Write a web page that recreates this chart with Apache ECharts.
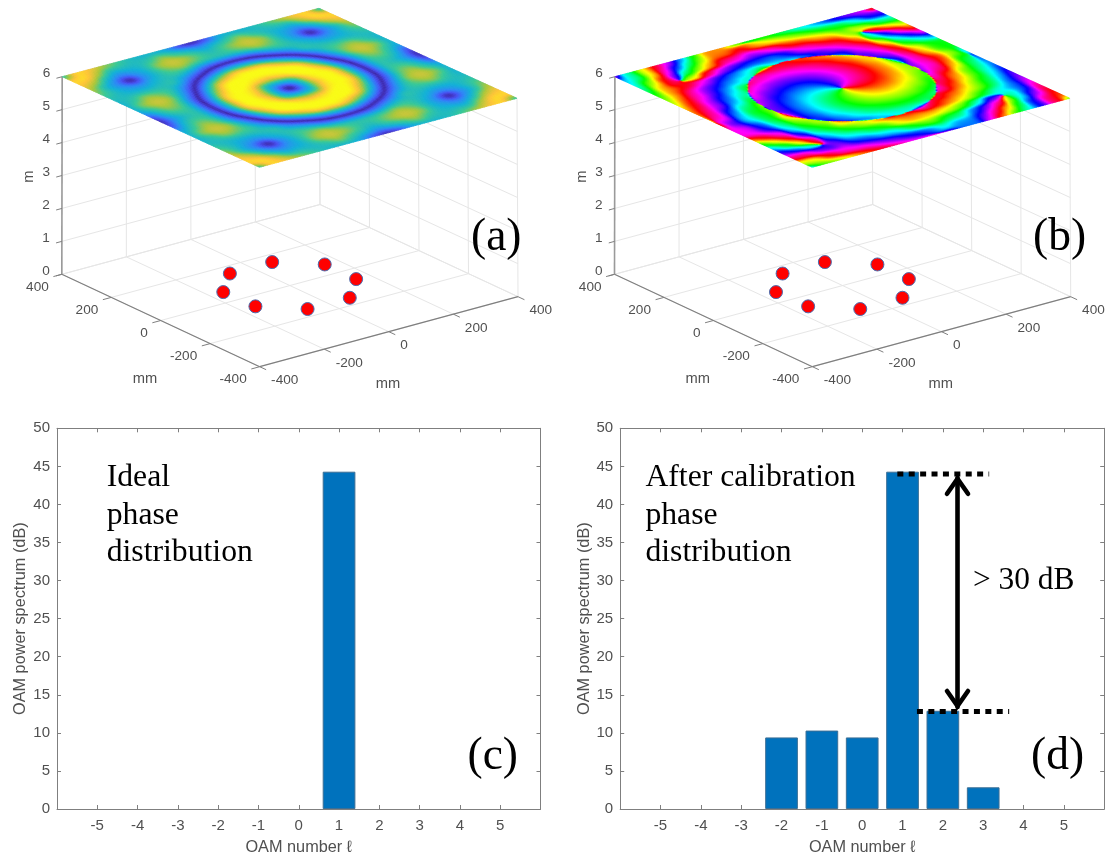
<!DOCTYPE html>
<html><head><meta charset="utf-8">
<style>html,body{margin:0;padding:0;background:#fff}#c{width:1109px;height:859px;filter:blur(0.4px)}</style>
<script src="https://cdn.jsdelivr.net/npm/echarts@6/dist/echarts.min.js"></script>
</head><body><div id="c"></div>
<script>
// ---- data ----
const oamNumbers = [-2, -1, 0, 1, 2, 3];
const idealPower = [0, 0, 0, 44.3, 0, 0];
const calibratedPower = [9.4, 10.3, 9.4, 44.3, 12.9, 2.85];
const xyTicks = [-400, -200, 0, 200, 400];
const zTicks = [0, 1, 2, 3, 4, 5, 6];
const elementX = [155, 155, 64, -63, -156, -155, -63, 63];
const elementY = [-67, 64, 157, 157, 66, -64, -155, -158];
// Signed level of the field magnitude, one quadrant, 0.1 steps of 400 mm (row = |y|, col = |x|)
const levelQuadrant = [
 [0,.38,.80,1,.92,.45,-.07,-.48,-.50,-.34,-.03],
 [.38,.50,.88,1,.90,.40,-.10,-.50,-.58,-.44,-.14],
 [.80,.88,1,1,.72,.23,-.20,-.58,-.70,-.55,-.38],
 [1,1,.99,.85,.45,0,-.38,-.68,-.76,-.66,-.45],
 [.92,.90,.72,.45,.10,-.24,-.50,-.62,-.68,-.55,-.45],
 [.45,.40,.23,0,-.24,-.48,-.50,-.48,-.48,-.48,-.50],
 [-.07,-.10,-.20,-.38,-.50,-.50,-.42,-.30,-.36,-.48,-.60],
 [-.48,-.50,-.58,-.68,-.62,-.48,-.30,-.03,-.28,-.50,-.72],
 [-.50,-.58,-.70,-.76,-.68,-.48,-.36,-.28,-.46,-.72,-.85],
 [-.34,-.44,-.55,-.66,-.55,-.48,-.48,-.50,-.72,-.90,-.88],
 [-.03,-.14,-.38,-.45,-.45,-.50,-.60,-.72,-.85,-.88,-.55]
];
// Phase colour (hue, degrees), x = 0.1..1, y = 0..1; the other quadrants repeat it turned by 90 degrees
const hueQuadrant = [
 [249,261,280,307,342,190,225,290,20,140],
 [298,291,302,325,357,205,250,320,43,125],
 [328,321,330,350,20,240,295,1,59,119],
 [356,352,0,20,49,270,320,15,80,140],
 [27,26,36,55,250,300,350,40,100,165],
 [65,66,77,270,300,335,10,60,125,185],
 [270,250,280,310,340,20,65,95,135,210],
 [318,325,345,15,70,150,200,85,150,240],
 [10,40,60,120,175,240,0,105,190,265],
 [80,105,115,170,240,320,50,150,240,285],
 [170,125,130,212,300,20,85,160,250,0]
];
const upperDotted = {y: 44.0, from: 0.871, to: 3.148};
const lowerDotted = {y: 12.8, from: 1.357, to: 3.644};
const arrowSpan = {x: 2.363, top: 43.9, bottom: 13.0};
const captions = [
 {t:'(a)', x:471, y:238, s:45.5}, {t:'(b)', x:1033, y:238, s:45.5},
 {t:'(c)', x:467.5, y:757, s:45.5}, {t:'(d)', x:1031, y:757, s:45.5},
 {t:'Ideal', x:106.7, y:478, s:31.7}, {t:'phase', x:106.7, y:515.5, s:31.7}, {t:'distribution', x:106.7, y:553, s:31.7},
 {t:'After calibration', x:645.4, y:478, s:31.7}, {t:'phase', x:645.4, y:515.5, s:31.7}, {t:'distribution', x:645.4, y:553, s:31.7},
 {t:'> 30 dB', x:973, y:581, s:31.4}
];
// ---- view of the 3-D boxes ----
const floorBox = {F:[259.7,366.7], L:[61.8,274.3], R:[518,296.7], K:[320,204.5]};
const roofBox = {F:[259.4,167.3], L:[62.2,76.7], R:[517,98.3], K:[319,8.3]};
const panelShift = [0, 552.7];
function project(a, b, z, panel) {
  const s=(a+400)/800, t=(b+400)/800, w=z/6;
  const pick = (box,i)=> box.F[i]*(1-s)*(1-t)+box.L[i]*s*(1-t)+box.R[i]*(1-s)*t+box.K[i]*s*t;
  return [pick(floorBox,0)*(1-w)+pick(roofBox,0)*w+panelShift[panel], pick(floorBox,1)*(1-w)+pick(roofBox,1)*w];
}
const parula=[[.2422,.1504,.6603],[.281,.3228,.9579],[.1786,.5289,.9682],[.0689,.6948,.8394],[.2161,.7843,.5923],[.672,.7793,.2227],[.997,.7659,.2199],[.9769,.9839,.0805]];
function parulaColor(v){ v=Math.min(1,Math.max(0,v))*7; const i=Math.min(6,Math.floor(v)),f=v-i,c=[0,1,2].map(k=>Math.round(255*(parula[i][k]*(1-f)+parula[i+1][k]*f))); return `rgb(${c})`; }
function hueColor(h){ h=((h%360)+360)%360; const x=h/60,i=Math.floor(x),f=x-i; const m=[[1,f,0],[1-f,1,0],[0,1,f],[0,1-f,1],[f,0,1],[1,0,1-f]][i%6]; return `rgb(${m.map(k=>Math.round(255*k))})`; }
const N=10;
const levelAt=(i,j)=>levelQuadrant[Math.abs(j)][Math.abs(i)];
function hueAt(i,j){ let add=0; if(i===0&&j===0) return 0; while(!(i>0&&j>=0)){ const ni=j,nj=-i; i=ni;j=nj; add+=90; } return hueQuadrant[j][i-1]+add; }
const nodeL=[],nodeC=[],nodeS=[];
for(let j=-N;j<=N;j++){ const a=[],c=[],s=[]; for(let i=-N;i<=N;i++){ const l=levelAt(i,j),h=hueAt(i,j)*Math.PI/180; a.push(l); c.push(Math.abs(l)*Math.cos(h)); s.push(Math.abs(l)*Math.sin(h)); } nodeL.push(a);nodeC.push(c);nodeS.push(s); }
function cr(t){ const t2=t*t,t3=t2*t; return [-.5*t3+t2-.5*t,1.5*t3-2.5*t2+1,-1.5*t3+2*t2+.5*t,.5*t3-.5*t2]; }
function shade(tab,ci,cj,wu,wv){ let r=0; for(let q=0;q<4;q++){ const jj=Math.min(2*N,Math.max(0,cj+q-1)); for(let p=0;p<4;p++){ const ii=Math.min(2*N,Math.max(0,ci+p-1)); r+=wu[p]*wv[q]*tab[jj][ii]; } } return r; }
const cellList=[]; for(let j=0;j<2*N;j++) for(let i=0;i<2*N;i++) cellList.push([i,j,0,0]);
function surfaceSeries(panel){
  const SUB=panel===0?6:9;
  return {type:'custom',xAxisIndex:4,yAxisIndex:4,coordinateSystem:'cartesian2d',clip:false,silent:true,z:5,progressive:0,
   data:cellList,encode:{x:2,y:3},
   renderItem(params,api){
    const ci=api.value(0),cj=api.value(1),kids=[];
    for(let q=0;q<SUB;q++)for(let p=0;p<SUB;p++){
      const u=(p+.5)/SUB,v=(q+.5)/SUB,wu=cr(u),wv=cr(v); let fill;
      if(panel===0) fill=parulaColor(Math.abs(shade(nodeL,ci,cj,wu,wv)));
      else fill=hueColor(Math.atan2(shade(nodeS,ci,cj,wu,wv),shade(nodeC,ci,cj,wu,wv))*180/Math.PI);
      const mm=(g,k)=>(g+k/SUB-N)*40;
      const pts=[[p,q],[p+1,q],[p+1,q+1],[p,q+1]].map(e=>api.coord(project(mm(ci,e[0]),mm(cj,e[1]),6,panel)));
      kids.push({type:'polygon',shape:{points:pts},style:{fill:fill,stroke:fill,lineWidth:.7}});
    }
    return {type:'group',children:kids};
   }};
}
const frameColor='#e6e6e6', axisColor='#7f7f7f', textColor='#505050';
function frameSeries(panel){
  return {type:'custom',xAxisIndex:4,yAxisIndex:4,clip:false,silent:true,z:2,data:[[0,0]],encode:{x:0,y:1},
   renderItem(params,api){
    const P=(a,b,z)=>api.coord(project(a,b,z,panel)), kids=[];
    const seg=(p,q,c,w)=>kids.push({type:'line',shape:{x1:p[0],y1:p[1],x2:q[0],y2:q[1]},style:{stroke:c,lineWidth:w||1}});
    const txt=(t,x,y,al,size,rot)=>kids.push({type:'text',x:x,y:y,rotation:rot||0,style:{text:t,fill:textColor,font:size+'px "Liberation Sans"',textAlign:al,textVerticalAlign:'middle'}});
    xyTicks.forEach(v=>{
      seg(P(v,-400,0),P(v,400,0),frameColor); seg(P(-400,v,0),P(400,v,0),frameColor);
      seg(P(400,v,0),P(400,v,6),frameColor); seg(P(v,400,0),P(v,400,6),frameColor);
    });
    zTicks.forEach(z=>{ seg(P(400,-400,z),P(400,400,z),frameColor); seg(P(400,400,z),P(-400,400,z),frameColor); });
    seg(P(400,-400,0),P(-400,-400,0),axisColor,1.2); seg(P(-400,-400,0),P(-400,400,0),axisColor,1.2);
    seg(P(400,-400,0),P(400,-400,6),'#9a9a9a',1.6);
    xyTicks.forEach(v=>{
      const a=P(v,-400,0),b=P(v,-426,0); seg(a,b,axisColor);
      txt(String(v),a[0]-13,a[1]+12.5,'right',13.6);
      const c=P(-400,v,0),d=P(-426,v,0); seg(c,d,axisColor);
      txt(String(v),c[0]+11.4,c[1]+14,'left',13.6);
    });
    zTicks.forEach(z=>{ const a=P(400,-400,z),b=P(400,-418,z); seg(a,b,axisColor); txt(String(z),a[0]-12,a[1]-3,'right',13.6); });
    const dx=panelShift[panel], at=q=>api.coord([q[0]+dx,q[1]]);
    let q=at([145,379]); txt('mm',q[0],q[1],'center',14.7);
    q=at([388,384]); txt('mm',q[0],q[1],'center',14.7);
    q=at([29,176.7]); txt('m',q[0],q[1],'center',14.7,Math.PI/2);
    return {type:'group',children:kids};
   }};
}
function elementSeries(panel){
  return {type:'scatter',xAxisIndex:4,yAxisIndex:4,silent:true,z:3,symbolSize:13,clip:false,
    data:elementX.map((a,i)=>project(a,elementY[i],0,panel)),
    itemStyle:{color:'#ff0000',borderColor:'#4a6db0',borderWidth:1,opacity:1}};
}
const axisCommon={axisLine:{show:true,onZero:false,lineStyle:{color:axisColor,width:1}},axisTick:{show:true,inside:true,length:4,lineStyle:{color:axisColor}},splitLine:{show:false}};
const labelFont={color:textColor,fontFamily:'Liberation Sans',fontSize:15};
const xPair=g=>[
 Object.assign({},axisCommon,{gridIndex:g,type:'value',min:-6,max:6,interval:1,position:'bottom',axisLabel:Object.assign({margin:9,showMinLabel:false,showMaxLabel:false},labelFont),
   name:'OAM number \u2113',nameLocation:'middle',nameGap:31,nameTextStyle:{color:textColor,fontFamily:'Liberation Sans',fontSize:16.3}}),
 Object.assign({},axisCommon,{gridIndex:g,type:'value',min:-6,max:6,interval:1,position:'top',axisLabel:{show:false}})];
const yPair=g=>[
 Object.assign({},axisCommon,{gridIndex:g,type:'value',min:0,max:50,interval:5,position:'left',axisLabel:Object.assign({margin:7},labelFont),
   name:'OAM power spectrum (dB)',nameLocation:'middle',nameGap:28,nameTextStyle:{color:textColor,fontFamily:'Liberation Sans',fontSize:16.3}}),
 Object.assign({},axisCommon,{gridIndex:g,type:'value',min:0,max:50,interval:5,position:'right',axisLabel:{show:false}})];
const barStyle={color:'#0072BD',borderColor:'#3c6f95',borderWidth:1};
const barSeries=(g,vals)=>({type:'bar',xAxisIndex:2*g,yAxisIndex:2*g,barWidth:32.7,silent:true,z:2,itemStyle:barStyle,
  data:oamNumbers.map((x,i)=>[x,vals[i]]).filter(d=>d[1]>0)});
const dotted=d=>({type:'line',xAxisIndex:2,yAxisIndex:2,silent:true,z:6,showSymbol:false,data:[[d.from,d.y],[d.to,d.y]],lineStyle:{color:'#000',width:5,type:[6,5.4]}});
const option={
 animation:false,backgroundColor:'#fff',
 grid:[{left:57,top:428.3,width:483.5,height:380.7},{left:620.2,top:428.3,width:484,height:380.7},{left:0,top:0,width:1109,height:859}],
 xAxis:[...xPair(0),...xPair(1),{gridIndex:2,type:'value',min:0,max:1109,show:false}],
 yAxis:[...yPair(0),...yPair(1),{gridIndex:2,type:'value',min:0,max:859,inverse:true,show:false}],
 graphic:captions.map(c=>({type:'text',x:c.x,y:c.y,z:50,silent:true,style:{text:c.t,fill:'#000',font:c.s+'px "Liberation Serif"',textAlign:'left',textVerticalAlign:'middle'}})),
 series:[
  barSeries(0,idealPower),barSeries(1,calibratedPower),
  dotted(upperDotted),dotted(lowerDotted),
  {type:'custom',xAxisIndex:2,yAxisIndex:2,silent:true,z:6,clip:false,data:[[arrowSpan.x,arrowSpan.top,arrowSpan.bottom]],encode:{x:0,y:[1,2]},
   renderItem(params,api){
     const t=api.coord([api.value(0),api.value(1)]),b=api.coord([api.value(0),api.value(2)]);
     const st={stroke:'#000',lineWidth:4.6,fill:null,lineJoin:'miter',lineCap:'round'};
     return {type:'group',children:[
       {type:'line',shape:{x1:t[0],y1:t[1]+3,x2:b[0],y2:b[1]-3},style:st},
       {type:'polyline',shape:{points:[[t[0]-10.5,t[1]+19],[t[0],t[1]+4],[t[0]+10.5,t[1]+19]]},style:st},
       {type:'polyline',shape:{points:[[b[0]-10.5,b[1]-19],[b[0],b[1]-4],[b[0]+10.5,b[1]-19]]},style:st}
     ]};
   }},
  frameSeries(0),frameSeries(1),elementSeries(0),elementSeries(1),surfaceSeries(0),surfaceSeries(1)
 ]
};
echarts.init(document.getElementById('c'),null,{renderer:'canvas'}).setOption(option);
</script></body></html>
